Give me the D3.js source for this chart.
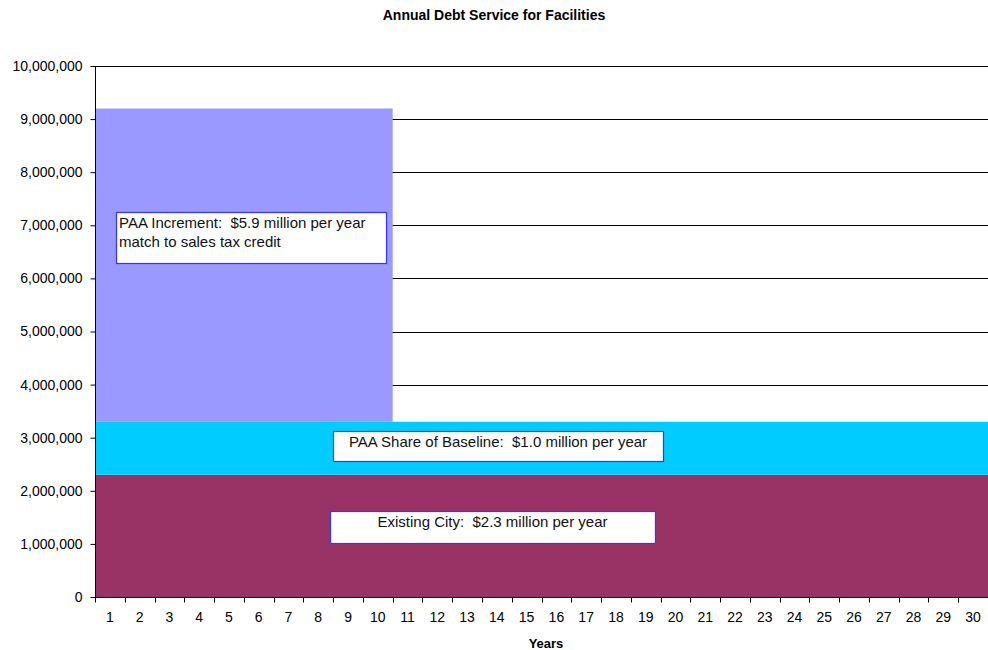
<!DOCTYPE html>
<html lang="en">
<head>
  <meta charset="UTF-8">
  <title>Annual Debt Service for Facilities</title>
  <script src="https://d3js.org/d3.v7.min.js"></script>
  <style>
    body { margin: 0; font-family: Arial, "Liberation Sans", sans-serif; background: #fff; }
    svg { display: block; }
    text { white-space: pre; }
  </style>
</head>
<body>
  <svg width="988" height="650"></svg>
  <script>
    // data
    const years = d3.range(1, 31);
    const existingCity = years.map(() => 2300000);
    const paaShare = years.map(() => 1000000);
    const paaIncrement = years.map(y => y <= 10 ? 5900000 : 0);
    const yTicks = d3.range(0, 10000001, 1000000);

    const seriesNames = ["existing", "share", "increment"];
    const colors = { existing: "#993366", share: "#00CCFF", increment: "#9999FF" };

    const rows = years.map((y, i) => ({
      year: y, existing: existingCity[i], share: paaShare[i], increment: paaIncrement[i]
    }));

    const svg = d3.select("svg");
    const font = "Arial, 'Liberation Sans', sans-serif";
    const margin = {top: 66, right: 0, bottom: 53, left: 95};
    const width = 988, height = 650;

    const x = d3.scaleBand()
      .domain(years)
      .range([margin.left, width - margin.right])
      .padding(0);

    const y = d3.scaleLinear()
      .domain([0, 10000000])
      .range([height - margin.bottom, margin.top]);

    // gridlines
    svg.append("g")
      .selectAll("line")
      .data(yTicks.filter(d => d > 0))
      .join("line")
      .attr("x1", margin.left)
      .attr("x2", width - margin.right)
      .attr("y1", d => Math.round(y(d)) + 0.5)
      .attr("y2", d => Math.round(y(d)) + 0.5)
      .attr("stroke", "#000")
      .attr("stroke-width", 1);

    // stacked step areas
    const stacked = d3.stack().keys(seriesNames)(rows);
    const area = d3.area()
      .x(p => p.x)
      .y0(p => y(p.y0))
      .y1(p => y(p.y1));

    stacked.forEach(s => {
      const pts = [];
      s.forEach(d => {
        const x0 = x(d.data.year);
        pts.push({x: x0, y0: d[0], y1: d[1]});
        pts.push({x: x0 + x.bandwidth(), y0: d[0], y1: d[1]});
      });
      svg.append("path")
        .datum(pts)
        .attr("fill", colors[s.key])
        .attr("d", area);
    });

    // axes
    const yAxis = d3.axisLeft(y)
      .tickValues(yTicks)
      .tickSize(5)
      .tickPadding(8)
      .tickFormat(d3.format(","));
    const gy = svg.append("g")
      .attr("transform", `translate(${margin.left + 0.5},0)`)
      .call(yAxis);
    gy.selectAll("text").attr("font-size", 14).attr("font-family", font).attr("fill", "#000");
    gy.select(".domain").attr("d", `M0,${y(0)}V${y(10000000)}`);

    const xAxis = d3.axisBottom(x).tickSize(0).tickPadding(15);
    const gx = svg.append("g")
      .attr("transform", `translate(0,${Math.round(y(0)) + 0.5})`)
      .call(xAxis);
    gx.selectAll("text").attr("font-size", 14).attr("font-family", font).attr("fill", "#000");
    gx.select(".domain").attr("d", `M${margin.left},0H${width}`);
    // tick marks at band boundaries
    gx.selectAll(".bt")
      .data(years)
      .join("line")
      .attr("class", "bt")
      .attr("x1", d => Math.round(x(d)) + 0.5)
      .attr("x2", d => Math.round(x(d)) + 0.5)
      .attr("y1", 0)
      .attr("y2", 5)
      .attr("stroke", "#000");

    // title and axis label
    svg.append("text")
      .attr("x", 494)
      .attr("y", 20)
      .attr("text-anchor", "middle")
      .attr("font-weight", "bold")
      .attr("font-size", 14)
      .text("Annual Debt Service for Facilities");

    svg.append("text")
      .attr("x", 546)
      .attr("y", 648)
      .attr("text-anchor", "middle")
      .attr("font-weight", "bold")
      .attr("font-size", 13)
      .text("Years");

    // annotation boxes
    const notes = [
      {x: 116, y: 212, w: 270, h: 51, anchor: "start", lines: ["PAA Increment:  $5.9 million per year", "match to sales tax credit"]},
      {x: 333, y: 431, w: 330, h: 30, anchor: "middle", lines: ["PAA Share of Baseline:  $1.0 million per year"]},
      {x: 330, y: 511, w: 325, h: 32, anchor: "middle", lines: ["Existing City:  $2.3 million per year"]}
    ];
    notes.forEach(n => {
      const g = svg.append("g");
      g.append("rect")
        .attr("x", n.x + 0.5).attr("y", n.y + 0.5)
        .attr("width", n.w).attr("height", n.h)
        .attr("fill", "#fff")
        .attr("stroke", "#3333FF")
        .attr("stroke-width", 1.2);
      n.lines.forEach((t, i) => {
        g.append("text")
          .attr("x", n.anchor === "start" ? n.x + 3 : n.x + n.w / 2)
          .attr("y", n.y + 16 + i * 18.5)
          .attr("text-anchor", n.anchor)
          .attr("font-size", 15)
          .attr("fill", "#111")
          .text(t);
      });
    });
  </script>
</body>
</html>
